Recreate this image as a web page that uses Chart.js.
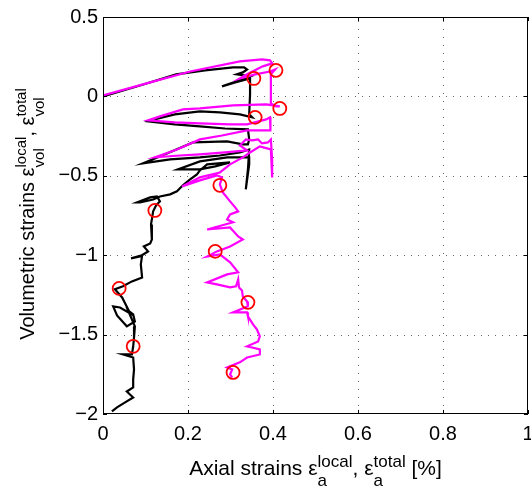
<!DOCTYPE html>
<html>
<head>
<meta charset="utf-8">
<script src="https://cdn.jsdelivr.net/npm/chart.js@4/dist/chart.umd.min.js"></script>
<style>
  html, body { margin: 0; padding: 0; background: #fff; }
  #c { display: block; }
</style>
</head>
<body>
<canvas id="c" width="531" height="493"></canvas>
<script>
// ---------- data ----------
const xTicks = [0, 0.2, 0.4, 0.6, 0.8, 1];
const yTicks = [-2, -1.5, -1, -0.5, 0, 0.5];

// local strains (black)
const localX = [0, 0.087, 0.172, 0.240, 0.306, 0.332, 0.339, 0.329, 0.315, 0.332,
  0.346, 0.313, 0.280, 0.311, 0.346, 0.346, 0.344, 0.351, 0.322, 0.275,
  0.228, 0.169, 0.111, 0.106, 0.169, 0.228, 0.287, 0.341, 0.344, 0.341,
  0.329, 0.292, 0.212, 0.146, 0.094, 0.158, 0.228, 0.275, 0.322, 0.344,
  0.341, 0.336, 0.344, 0.344, 0.292, 0.228, 0.176, 0.228, 0.264, 0.299,
  0.245, 0.228, 0.221, 0.205, 0.188, 0.174, 0.158, 0.134, 0.118, 0.087,
  0.080, 0.111, 0.127, 0.134, 0.125, 0.118, 0.113, 0.115, 0.111, 0.096,
  0.106, 0.087, 0.066, 0.092, 0.089, 0.092, 0.068, 0.047, 0.028, 0.045,
  0.059, 0.064, 0.040, 0.024, 0.033, 0.056, 0.075, 0.071, 0.059, 0.075,
  0.073, 0.071, 0.068, 0.047, 0.071, 0.073, 0.071, 0.071, 0.056, 0.071,
  0.052, 0.033, 0.021];
const localY = [0, 0.069, 0.139, 0.164, 0.183, 0.183, 0.170, 0.151, 0.139, 0.132,
  0.126, 0.094, 0.063, 0.088, 0.113, 0.013, -0.113, -0.132, -0.113, -0.101,
  -0.094, -0.113, -0.151, -0.157, -0.176, -0.189, -0.202, -0.208, -0.271, -0.302,
  -0.302, -0.283, -0.290, -0.365, -0.422, -0.397, -0.384, -0.372, -0.353, -0.334,
  -0.460, -0.586, -0.428, -0.384, -0.384, -0.409, -0.460, -0.460, -0.441, -0.416,
  -0.428, -0.466, -0.491, -0.523, -0.560, -0.598, -0.617, -0.630, -0.649, -0.668,
  -0.668, -0.636, -0.630, -0.661, -0.686, -0.724, -0.806, -0.901, -0.926, -0.945,
  -0.976, -1.008, -1.020, -1.001, -1.058, -1.140, -1.165, -1.196, -1.215, -1.266,
  -1.341, -1.367, -1.329, -1.322, -1.379, -1.448, -1.417, -1.373, -1.348, -1.448,
  -1.518, -1.575, -1.625, -1.625, -1.644, -1.719, -1.782, -1.833, -1.858, -1.896,
  -1.927, -1.958, -1.984];

// total strains (magenta)
const totalX = [0, 0.111, 0.205, 0.322, 0.374, 0.393, 0.398, 0.376, 0.339, 0.322,
  0.358, 0.393, 0.405, 0.395, 0.395, 0.395, 0.407, 0.416, 0.384, 0.306,
  0.228, 0.188, 0.134, 0.106, 0.169, 0.228, 0.299, 0.339, 0.384, 0.393,
  0.395, 0.393, 0.339, 0.280, 0.228, 0.174, 0.122, 0.181, 0.228, 0.287,
  0.339, 0.322, 0.336, 0.351, 0.365, 0.374, 0.388, 0.395, 0.398, 0.398,
  0.395, 0.369, 0.346, 0.329, 0.299, 0.275, 0.228, 0.186, 0.228, 0.268,
  0.280, 0.275, 0.282, 0.299, 0.311, 0.318, 0.299, 0.292, 0.306, 0.245,
  0.299, 0.318, 0.329, 0.299, 0.268, 0.245, 0.275, 0.299, 0.318, 0.292,
  0.245, 0.268, 0.299, 0.313, 0.318, 0.320, 0.327, 0.329, 0.339, 0.341,
  0.306, 0.339, 0.341, 0.353, 0.362, 0.369, 0.365, 0.339, 0.351, 0.369,
  0.369, 0.339, 0.322, 0.292, 0.304, 0.299, 0.304];
const totalY = [0.006, 0.088, 0.157, 0.220, 0.233, 0.227, 0.208, 0.189, 0.139, 0.113,
  0.139, 0.157, 0.170, 0.139, 0.044, -0.044, -0.063, -0.063, -0.050, -0.057,
  -0.076, -0.082, -0.126, -0.151, -0.164, -0.170, -0.176, -0.176, -0.145, -0.132,
  -0.176, -0.214, -0.214, -0.246, -0.271, -0.334, -0.384, -0.372, -0.365, -0.353,
  -0.340, -0.309, -0.271, -0.277, -0.271, -0.296, -0.290, -0.271, -0.397, -0.510,
  -0.334, -0.315, -0.353, -0.384, -0.428, -0.479, -0.510, -0.567, -0.529, -0.497,
  -0.510, -0.554, -0.605, -0.661, -0.699, -0.724, -0.743, -0.775, -0.793, -0.838,
  -0.825, -0.882, -0.901, -0.945, -0.976, -1.008, -0.995, -1.045, -1.108, -1.121,
  -1.171, -1.184, -1.203, -1.196, -1.152, -1.203, -1.222, -1.260, -1.291, -1.322,
  -1.360, -1.360, -1.385, -1.436, -1.467, -1.511, -1.543, -1.574, -1.581, -1.593,
  -1.625, -1.644, -1.675, -1.707, -1.719, -1.751, -1.770];

// marked points (red circles)
const localMarkX = [0.355, 0.358, 0.122, 0.038, 0.071];
const localMarkY = [0.113, -0.132, -0.718, -1.209, -1.574];
const totalMarkX = [0.407, 0.416, 0.275, 0.264, 0.341, 0.306];
const totalMarkY = [0.164, -0.076, -0.560, -0.976, -1.297, -1.738];

// ---------- helpers ----------
const zip = (xs, ys) => xs.map((x, i) => ({ x: x, y: ys[i] }));
const FONT = "'Liberation Sans', Arial, Helvetica, sans-serif";
const fmt = v => String(v).replace('-', '\u2212');

function drawRich(ctx, parts, mainSize, subSize, supOff, subOff) {
  const mf = mainSize + 'px ' + FONT, sf = subSize + 'px ' + FONT;
  let total = 0;
  const widths = parts.map(p => {
    let w;
    if (p.t !== undefined) { ctx.font = mf; w = ctx.measureText(p.t).width; }
    else { ctx.font = sf; w = Math.max(ctx.measureText(p.sup).width, ctx.measureText(p.sub).width); }
    total += w; return w;
  });
  let x = -total / 2;
  ctx.textAlign = 'left';
  ctx.textBaseline = 'alphabetic';
  parts.forEach((p, i) => {
    if (p.t !== undefined) { ctx.font = mf; ctx.fillText(p.t, x, 0); }
    else {
      ctx.font = sf;
      ctx.fillText(p.sup, x, supOff);
      ctx.fillText(p.sub, x, subOff);
    }
    x += widths[i];
  });
}

const framePlugin = {
  id: 'framePlugin',
  beforeDatasetsDraw(chart) {
    const { ctx, chartArea: a, scales: { x, y } } = chart;
    ctx.save();
    ctx.strokeStyle = 'rgba(0,0,0,0.6)';
    ctx.lineWidth = 1;
    ctx.setLineDash([1, 7]);
    xTicks.forEach(v => {
      const px = Math.round(x.getPixelForValue(v)) + 0.5;
      if (px <= a.left + 1 || px >= a.right - 1) return;
      ctx.beginPath(); ctx.moveTo(px, a.bottom); ctx.lineTo(px, a.top); ctx.stroke();
    });
    ctx.setLineDash([1, 6]);
    yTicks.forEach(v => {
      const py = Math.round(y.getPixelForValue(v)) + 0.5;
      if (py <= a.top + 1 || py >= a.bottom - 1) return;
      ctx.beginPath(); ctx.moveTo(a.left, py); ctx.lineTo(a.right, py); ctx.stroke();
    });
    ctx.restore();
  },
  afterDraw(chart) {
    const { ctx, chartArea: a, scales: { x, y } } = chart;
    ctx.save();
    ctx.strokeStyle = '#000';
    ctx.lineWidth = 1;
    ctx.setLineDash([]);
    ctx.strokeRect(a.left + 0.5, a.top + 0.5, a.right - a.left - 1, a.bottom - a.top - 1);
    const tl = 4;
    ctx.beginPath();
    xTicks.forEach(v => {
      const px = Math.round(x.getPixelForValue(v)) + 0.5;
      ctx.moveTo(px, a.bottom); ctx.lineTo(px, a.bottom - tl);
      ctx.moveTo(px, a.top); ctx.lineTo(px, a.top + tl);
    });
    yTicks.forEach(v => {
      const py = Math.round(y.getPixelForValue(v)) + 0.5;
      ctx.moveTo(a.left, py); ctx.lineTo(a.left + tl, py);
      ctx.moveTo(a.right, py); ctx.lineTo(a.right - tl, py);
    });
    ctx.stroke();

    ctx.fillStyle = '#000';
    // x title
    ctx.save();
    ctx.translate((a.left + a.right) / 2, 475);
    drawRich(ctx, [
      { t: 'Axial strains \u03b5' }, { sup: 'local', sub: 'a' },
      { t: ', \u03b5' }, { sup: 'total', sub: 'a' }, { t: ' [%]' }
    ], 21, 17, -8, 11);
    ctx.restore();
    // y title
    ctx.save();
    ctx.translate(34, 214);
    ctx.rotate(-Math.PI / 2);
    drawRich(ctx, [
      { t: 'Volumetric strains \u03b5' }, { sup: 'local', sub: 'vol' },
      { t: ', \u03b5' }, { sup: 'total', sub: 'vol' }
    ], 20, 15, -8, 10);
    ctx.restore();
    ctx.restore();
  }
};

const lineDs = (label, data, color) => ({
  label, data, showLine: true, borderColor: color, backgroundColor: color,
  borderWidth: 2.2, pointRadius: 0, pointHoverRadius: 0, fill: false, tension: 0
});
const markDs = (label, data) => ({
  label, data, showLine: false, pointRadius: 6.5, pointHoverRadius: 6.5,
  pointStyle: 'circle', borderColor: '#ff0000', backgroundColor: 'rgba(0,0,0,0)',
  borderWidth: 1.8
});

new Chart(document.getElementById('c'), {
  type: 'scatter',
  data: {
    datasets: [
      markDs('local markers', zip(localMarkX, localMarkY)),
      markDs('total markers', zip(totalMarkX, totalMarkY)),
      lineDs('total', zip(totalX, totalY), '#ff00ff'),
      lineDs('local', zip(localX, localY), '#000000')
    ]
  },
  options: {
    responsive: false,
    animation: false,
    layout: { autoPadding: false, padding: { top: 17, right: 3, left: 0, bottom: 0 } },
    plugins: { legend: { display: false }, tooltip: { enabled: false } },
    scales: {
      x: {
        type: 'linear', min: 0, max: 1,
        afterBuildTicks: s => { s.ticks = xTicks.map(v => ({ value: v })); },
        afterFit: s => { s.height = 79; s.paddingLeft = 0; s.paddingRight = 0; },
        grid: { display: false, drawTicks: false },
        border: { display: false },
        ticks: { color: '#000', font: { family: FONT, size: 20 }, padding: 8,
                 maxRotation: 0, autoSkip: false, callback: v => fmt(v) }
      },
      y: {
        type: 'linear', min: -2, max: 0.5,
        afterBuildTicks: s => { s.ticks = yTicks.map(v => ({ value: v })); },
        afterFit: s => { s.width = 103; s.paddingTop = 0; s.paddingBottom = 0; },
        grid: { display: false, drawTicks: false },
        border: { display: false },
        ticks: { color: '#000', font: { family: FONT, size: 20 }, padding: 5,
                 autoSkip: false, callback: v => fmt(v) }
      }
    }
  },
  plugins: [framePlugin]
});
</script>
</body>
</html>
